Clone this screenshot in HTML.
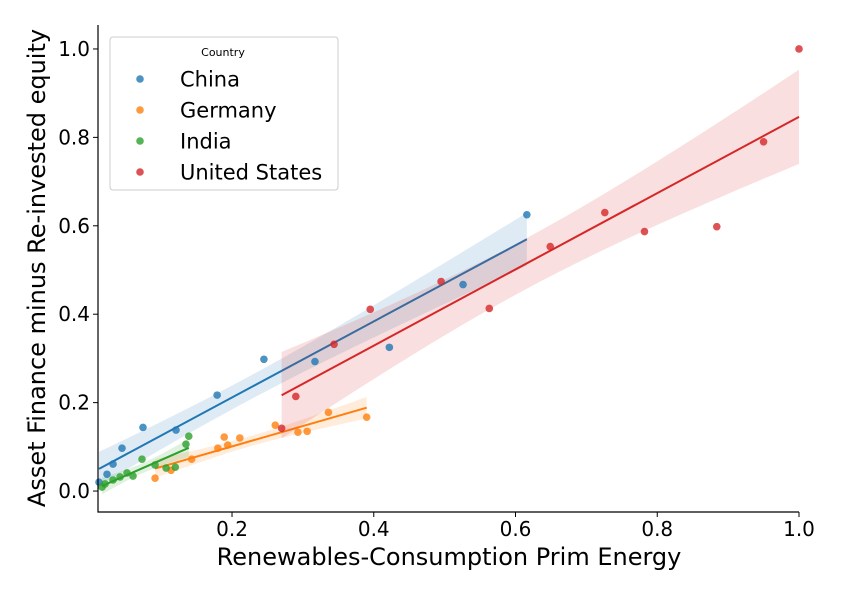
<!DOCTYPE html>
<html><head><meta charset="utf-8"><style>
body{margin:0;background:#fff;}
svg{display:block;font-family:"DejaVu Sans","Liberation Sans",sans-serif;}
</style></head><body>
<svg id="chart" width="842" height="595" viewBox="0 0 842 595"></svg>
<script>
const countries = ["China","Germany","India","United States"];
const colors = ["#1f77b4","#ff7f0e","#2ca02c","#d62728"];
const chinaX = [0.0123,0.0236,0.0321,0.0448,0.0744,0.121,0.179,0.245,0.317,0.422,0.526,0.616];
const chinaY = [0.020,0.038,0.061,0.097,0.144,0.138,0.217,0.298,0.293,0.325,0.467,0.625];
const germanyX = [0.0914,0.114,0.143,0.180,0.189,0.194,0.211,0.261,0.293,0.306,0.336,0.390];
const germanyY = [0.029,0.047,0.072,0.097,0.122,0.104,0.120,0.149,0.133,0.135,0.178,0.167];
const indiaX = [0.0166,0.0208,0.0321,0.0420,0.0518,0.0603,0.0730,0.0914,0.107,0.120,0.135,0.139];
const indiaY = [0.009,0.016,0.025,0.032,0.041,0.034,0.072,0.059,0.052,0.054,0.106,0.124];
const usX = [0.270,0.290,0.344,0.395,0.495,0.563,0.649,0.726,0.782,0.884,0.950,1.0];
const usY = [0.142,0.214,0.332,0.411,0.474,0.413,0.553,0.630,0.587,0.598,0.790,1.0];
const xTicks = [0.2,0.4,0.6,0.8,1.0];
const xTickLabels = ["0.2","0.4","0.6","0.8","1.0"];
const yTicks = [0.0,0.2,0.4,0.6,0.8,1.0];
const yTickLabels = ["0.0","0.2","0.4","0.6","0.8","1.0"];

const seriesX=[chinaX,germanyX,indiaX,usX], seriesY=[chinaY,germanyY,indiaY,usY];
const L=98,R=799,T=25,B=512, xmin=0.0109, xmax=1.0, ymin=-0.0474, ymax=1.0542;
const sx=v=>L+(v-xmin)/(xmax-xmin)*(R-L);
const sy=v=>B-(v-ymin)/(ymax-ymin)*(B-T);
const svg=document.getElementById('chart');
const NS='http://www.w3.org/2000/svg';
function mk(tag,attrs,parent){const e=document.createElementNS(NS,tag);for(const k in attrs)e.setAttribute(k,attrs[k]);(parent||svg).appendChild(e);return e;}

seriesX.forEach((xs,i)=>{
  const ys=seriesY[i], n=xs.length;
  const mx=xs.reduce((a,b)=>a+b)/n, my=ys.reduce((a,b)=>a+b)/n;
  let sxx=0,sxy=0; xs.forEach((x,j)=>{sxx+=(x-mx)**2;sxy+=(x-mx)*(ys[j]-my);});
  const b=sxy/sxx,a=my-b*mx;
  let sse=0; xs.forEach((x,j)=>{sse+=(ys[j]-a-b*x)**2;});
  const s=Math.sqrt(sse/(n-2)), t=2.3;
  const x0=Math.min(...xs), x1=Math.max(...xs);
  const up=[],lo=[];
  for(let k=0;k<=40;k++){const x=x0+(x1-x0)*k/40, y=a+b*x, se=t*s*Math.sqrt(1/n+(x-mx)**2/sxx);
    up.push(sx(x)+','+sy(y+se)); lo.unshift(sx(x)+','+sy(y-se));}
  const band=mk('polygon',{points:up.concat(lo).join(' '),fill:colors[i],'fill-opacity':0.15});
  
  
  const ln=mk('line',{x1:sx(x0),y1:sy(a+b*x0),x2:sx(x1),y2:sy(a+b*x1),stroke:colors[i],'stroke-width':2});
  
  
});
seriesX.forEach((xs,i)=>{
  xs.forEach((x,j)=>{
    const c=mk('circle',{cx:sx(x),cy:sy(seriesY[i][j]),r:3.8,fill:colors[i],'fill-opacity':0.8});
    
    
  });
});
const ax=mk('path',{d:`M${L},${T}V${B}H${R}`,stroke:'#000','stroke-width':1.2,fill:'none'});


xTicks.forEach((v,i)=>{
  mk('line',{x1:sx(v),x2:sx(v),y1:B,y2:B+5,stroke:'#000'});
  const t=mk('text',{x:sx(v),y:B+24,'text-anchor':'middle','font-size':20});
  t.textContent=xTickLabels[i];
  
  
});
yTicks.forEach((v,i)=>{
  mk('line',{x1:L-5,x2:L,y1:sy(v),y2:sy(v),stroke:'#000'});
  const t=mk('text',{x:L-8,y:sy(v)+7,'text-anchor':'end','font-size':20});
  t.textContent=yTickLabels[i];
  
  
});
</script>
<svg style="position:absolute;left:0;top:0" width="842" height="595" font-family="DejaVu Sans,Liberation Sans,sans-serif">
<text x="449" y="565" text-anchor="middle" font-size="24">Renewables-Consumption Prim Energy</text>
<text transform="translate(45,268) rotate(-90)" text-anchor="middle" font-size="24">Asset Finance minus Re-invested equity</text>
<g>
<rect x="110" y="37" width="228" height="153" rx="3" fill="#fff" fill-opacity="0.8" stroke="#ccc"/>
<text x="223" y="56" text-anchor="middle" font-size="11">Country</text>
<g><circle cx="140" cy="79" r="3.8" fill="#1f77b4" fill-opacity="0.8"/><text x="180" y="86.5" font-size="21">China</text></g>
<g><circle cx="140" cy="110" r="3.8" fill="#ff7f0e" fill-opacity="0.8"/><text x="180" y="117.5" font-size="21">Germany</text></g>
<g><circle cx="140" cy="141" r="3.8" fill="#2ca02c" fill-opacity="0.8"/><text x="180" y="148.5" font-size="21">India</text></g>
<g><circle cx="140" cy="172" r="3.8" fill="#d62728" fill-opacity="0.8"/><text x="180" y="179.5" font-size="21">United States</text></g>
</g>
</svg>
</body></html>
